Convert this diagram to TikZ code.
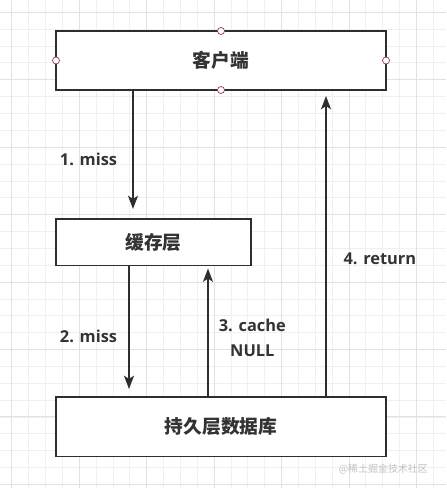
\documentclass[tikz,border=0pt]{standalone}
\usepackage{fontspec}
\usepackage[svgnames]{xcolor}
\usetikzlibrary{arrows.meta, positioning, calc}
\setmainfont{Open Sans}
\newfontfamily\cjkfont{Noto Sans CJK SC}
\definecolor{BoxLine}{HTML}{2E2E2E}
\definecolor{TextDark}{HTML}{333333}
\definecolor{HandleLine}{HTML}{8E3B4B}
\definecolor{GridMinor}{HTML}{F0F0F0}
\definecolor{GridMajor}{HTML}{E2E2E2}
\colorlet{MarkGray}{Silver}

\begin{document}
\begin{tikzpicture}[
    x=0.03cm, y=-0.03cm,
    layer/.style={
        rectangle, minimum width=9.9cm, minimum height=1.77cm,
        draw=BoxLine, line width=1.6pt, fill=white, outer sep=0pt,
        inner sep=0pt, text=TextDark,
        font=\cjkfont\bfseries\fontsize{16pt}{18pt}\selectfont
    },
    handle/.style={
        circle, minimum size=0.21cm, inner sep=0pt, draw=HandleLine,
        line width=0.6pt, fill=white
    },
    annot/.style={
        inner sep=0pt, text=TextDark, align=center,
        font=\bfseries\fontsize{14pt}{21pt}\selectfont
    },
    arr/.style={-{Stealth[length=0.4cm, width=0.3cm, inset=0.1cm]},
        line width=1.5pt, draw=BoxLine},
    wm/.style={font=\cjkfont\fontsize{8.5pt}{10pt}\selectfont, text=MarkGray}
]

\useasboundingbox (0,0) rectangle (446,488);

% ===================================================================
% GRID
% ===================================================================
\foreach \k in {0,...,25}
    \draw[GridMinor, line width=0.5pt] ({11.7+16.86*\k},0) -- ++(0,488);
\foreach \k in {0,...,28}
    \draw[GridMinor, line width=0.5pt] (0,{12.2+16.86*\k}) -- ++(446,0);
\foreach \k in {0,4,...,24}
    \draw[GridMajor, line width=0.6pt] ({11.7+16.86*\k},0) -- ++(0,488);
\foreach \k in {0,4,...,28}
    \draw[GridMajor, line width=0.6pt] (0,{12.2+16.86*\k}) -- ++(446,0);

% ===================================================================
% LAYERS
% ===================================================================

% Client
\node[layer] (client) at (221,60.5) {客户端};
\foreach \a in {north,south,east,west}
    \node[handle] (h-\a) at (client.\a) {};

% Cache
\node[layer, minimum width=5.85cm, minimum height=1.395cm,
      below=3.87cm of client.south west, anchor=north west] (cache) {缓存层};

% Database
\node[layer, minimum height=1.785cm,
      below=3.945cm of cache.south west, anchor=north west] (db) {持久层数据库};

% ===================================================================
% REQUEST FLOW
% ===================================================================

% 1. miss
\draw[arr, shorten >=0.3cm]
    ($(client.south west)+(77,0)$) -- ($(cache.north west)+(77,0)$)
    node[annot, pos=0.54, left=0.45cm] (l-miss1) {1. miss};

% 2. miss
\draw[arr, shorten >=0.24cm]
    ($(cache.south west)+(73,0)$) -- ($(db.north west)+(73,0)$)
    node[annot, pos=0.54, left=0.33cm] (l-miss2) {2. miss};

% 3. cache NULL
\draw[arr, shorten >=0.09cm]
    ($(db.north west)+(152,0)$) -- ($(cache.south west)+(152,0)$)
    node[annot, pos=0.45, right=0.3cm] (l-null) {3. cache\\NULL};

% 4. return
\draw[arr, shorten >=0.18cm]
    ($(db.north west)+(270,0)$) -- ($(client.south west)+(270,0)$)
    node[annot, pos=0.45, right=0.5cm] (l-ret) {4. return};

% watermark
\node[wm, anchor=east] (mark-src) at (432,469) {@稀土掘金技术社区};

\end{tikzpicture}
\end{document}
